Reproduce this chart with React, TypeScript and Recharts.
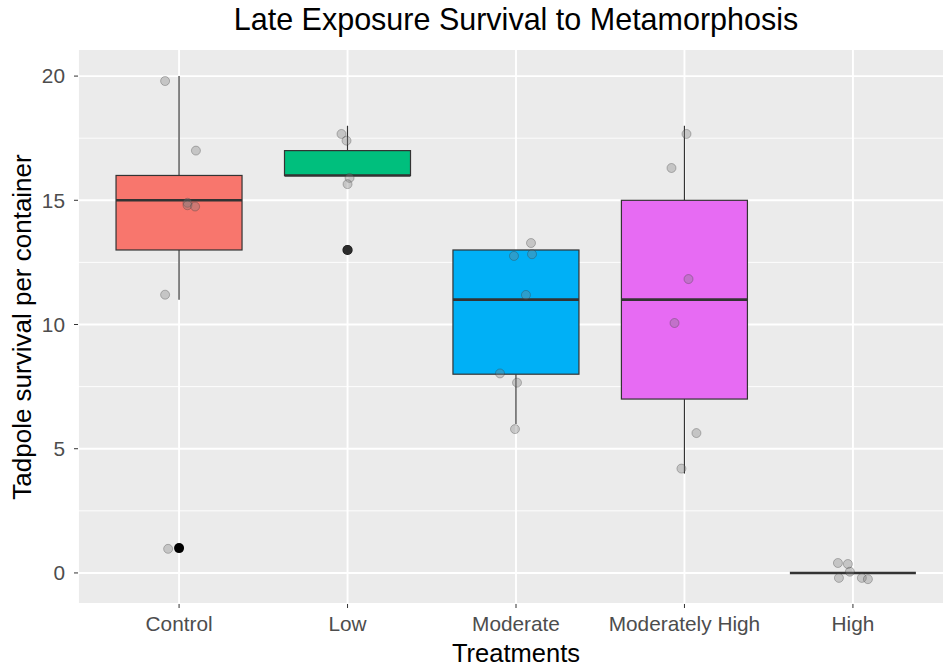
import { Bar, CartesianGrid, ComposedChart, Scatter, XAxis, YAxis } from "recharts";

const categories = ["Control", "Low", "Moderate", "Moderately High", "High"];
const whiskerLow = [11, 16, 6, 4, 0];
const q1 = [13, 16, 8, 7, 0];
const median = [15, 16, 11, 11, 0];
const q3 = [16, 17, 13, 15, 0];
const whiskerHigh = [20, 18, 13, 18, 0];
const boxFills = ["#F8766D", "#00BF7D", "#00B0F6", "#E76BF3", "#A3A500"];

const outlierGroup = [0, 1];
const outlierValue = [1, 13];

// jittered raw points per treatment: [x offset, value]
const jitterControl = [[-0.083, 19.8], [0.1, 17.0], [0.05, 14.9], [0.05, 14.8], [0.095, 14.75], [-0.083, 11.2], [-0.065, 0.97]];
const jitterLow = [[-0.036, 17.67], [-0.006, 17.4], [0.012, 15.9], [0.0, 15.65], [0.0, 13.0]];
const jitterModerate = [[0.089, 13.28], [-0.012, 12.76], [0.095, 12.83], [0.059, 11.19], [-0.095, 8.03], [0.006, 7.66], [-0.006, 5.79]];
const jitterModHigh = [[0.012, 17.67], [-0.077, 16.3], [0.024, 11.83], [-0.059, 10.06], [0.071, 5.63], [-0.018, 4.2]];
const jitterHigh = [[-0.089, 0.4], [-0.03, 0.36], [-0.083, -0.2], [-0.018, 0.05], [0.053, -0.2], [0.089, -0.25]];

const majorTicks = [0, 5, 10, 15, 20];
const minorTicks = [2.5, 7.5, 12.5, 17.5];
const xTicks = [1, 2, 3, 4, 5];

const BOX_WIDTH = 126;

const boxData = categories.map((name, i) => ({
  x: i + 1,
  name,
  range: [whiskerLow[i], whiskerHigh[i]],
  lo: whiskerLow[i],
  hi: whiskerHigh[i],
  q1: q1[i],
  med: median[i],
  q3: q3[i],
  fill: boxFills[i],
}));

const jitterData = [jitterControl, jitterLow, jitterModerate, jitterModHigh, jitterHigh].flatMap((pts, i) =>
  pts.map(([dx, y]) => ({ x: i + 1 + dx, y }))
);
const outlierData = outlierGroup.map((g, i) => ({ x: g + 1, y: outlierValue[i] }));

const FONT = '"Liberation Sans", Arial, sans-serif';

function BoxShape(props: any) {
  const { x, y, width, height, payload } = props;
  const { lo, hi, q1, med, q3, fill } = payload;
  const span = hi - lo;
  const px = (v: number) => (span === 0 ? y : y + ((hi - v) / span) * height);
  const cx = x + width / 2;
  const left = cx - BOX_WIDTH / 2;
  const yQ1 = px(q1);
  const yQ3 = px(q3);
  const yMed = px(med);
  return (
    <g>
      <line x1={cx} x2={cx} y1={px(hi)} y2={yQ3} stroke="#333333" strokeWidth={1.2} />
      <line x1={cx} x2={cx} y1={yQ1} y2={px(lo)} stroke="#333333" strokeWidth={1.2} />
      <rect x={left} y={yQ3} width={BOX_WIDTH} height={Math.max(yQ1 - yQ3, 0)} fill={fill} stroke="#333333" strokeWidth={1.2} />
      <line x1={left} x2={left + BOX_WIDTH} y1={yMed} y2={yMed} stroke="#333333" strokeWidth={2.6} />
    </g>
  );
}

function Dot(props: any) {
  const { cx, cy, fill, r, stroke, fillOpacity, strokeOpacity } = props;
  return <circle cx={cx} cy={cy} r={r} fill={fill} stroke={stroke} fillOpacity={fillOpacity} strokeOpacity={strokeOpacity} />;
}

export default function App() {
  return (
    <div style={{ position: "absolute", left: 0, top: 0, width: 943, height: 668, overflow: "hidden", background: "#fff", fontFamily: FONT }}>
      <div style={{ position: "absolute", top: 2, left: 78, width: 876, textAlign: "center", fontSize: 30.5, color: "#000", whiteSpace: "nowrap" }}>
        Late Exposure Survival to Metamorphosis
      </div>
      <div
        style={{
          position: "absolute",
          left: 22,
          top: 327,
          transform: "translate(-50%, -50%) rotate(-90deg)",
          whiteSpace: "nowrap",
          fontSize: 26,
          color: "#000",
        }}
      >
        Tadpole survival per container
      </div>
      <div style={{ position: "absolute", top: 639, left: 78, width: 876, textAlign: "center", fontSize: 25.5, color: "#000" }}>
        Treatments
      </div>
      <ComposedChart width={960} height={668} data={boxData} margin={{ top: 49, right: 6, bottom: 0, left: 0 }}>
        <CartesianGrid yAxisId="minor" vertical={false} stroke="#FFFFFF" strokeWidth={0.9} fill="#EBEBEB" />
        <CartesianGrid yAxisId="main" stroke="#FFFFFF" strokeWidth={1.9} />
        <XAxis
          dataKey="x"
          type="number"
          domain={[0.4, 5.6]}
          ticks={xTicks}
          allowDataOverflow
          tickFormatter={(v: number) => categories[v - 1]}
          axisLine={false}
          tickSize={4}
          tickMargin={8}
          tickLine={{ stroke: "#333333" }}
          tick={{ fill: "#4D4D4D", fontSize: 20.8, fontFamily: FONT }}
          height={64}
        />
        <YAxis
          yAxisId="main"
          type="number"
          domain={[-1.25, 21.09]}
          ticks={majorTicks}
          allowDataOverflow
          axisLine={false}
          tickSize={4}
          tickMargin={9}
          tickLine={{ stroke: "#333333" }}
          tick={{ fill: "#4D4D4D", fontSize: 20.8, fontFamily: FONT }}
          width={78}
        />
        <YAxis yAxisId="minor" type="number" domain={[-1.25, 21.09]} ticks={minorTicks} allowDataOverflow hide width={0} />
        <Bar yAxisId="main" dataKey="range" barSize={126} shape={<BoxShape />} isAnimationActive={false} />
        <Scatter yAxisId="main" data={outlierData} dataKey="y" fill="#000000" shape={<Dot r={5} />} isAnimationActive={false} />
        <Scatter
          yAxisId="main"
          data={jitterData}
          dataKey="y"
          fill="#7F7F7F"
          shape={<Dot r={4.5} stroke="#333333" fillOpacity={0.35} strokeOpacity={0.3} />}
          isAnimationActive={false}
        />
      </ComposedChart>
    </div>
  );
}
